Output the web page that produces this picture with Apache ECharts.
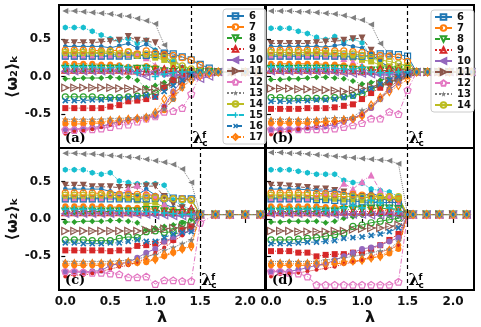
<!DOCTYPE html>
<html><head><meta charset="utf-8">
<script src="https://cdn.jsdelivr.net/npm/echarts@6/dist/echarts.min.js"></script>
<style>html,body{margin:0;padding:0;background:#fff}#c{width:481px;height:327px}</style>
</head><body><div id="c"></div>
<script>
// ---- lambda grids ----
const lamA = [0,0.1,0.2,0.3,0.4,0.5,0.6,0.7,0.8,0.9,1.0,1.1,1.2,1.3,1.4,1.5,1.6,1.7,1.85,2.0,2.15];
const lamB = [0,0.1,0.2,0.3,0.4,0.5,0.6,0.7,0.8,0.9,1.0,1.1,1.2,1.3,1.4,1.5,1.6,1.72,1.84,1.96,2.08,2.2];
const lamC = [0,0.1,0.2,0.3,0.4,0.5,0.6,0.7,0.8,0.9,1.0,1.1,1.2,1.3,1.4,1.5,1.67,1.83,2.0,2.17];
const lamD = [0,0.1,0.2,0.3,0.4,0.5,0.6,0.7,0.8,0.9,1.0,1.1,1.2,1.3,1.4,1.5,1.56,1.71,1.85,2.0,2.15];
const tailA = [0.06,0.06,0.06];
const tailB = [0.06,0.06,0.06,0.06,0.06,0.06];
const tailC = [0.06,0.06,0.06,0.06];
const tailD = [0.06,0.06,0.06,0.06,0.06];
const critA = 1.4, critB = 1.5, critC = 1.5, critD = 1.5;
const xTicks = [0, 0.5, 1.0, 1.5, 2.0];
const yTicks = [-0.5, 0, 0.5];
const legendA = ['6','7','8','9','10','11','12','13','14','15','16','17'];
const legendB = ['6','7','8','9','10','11','12','13','14'];
const panelNames = ['(a)','(b)','(c)','(d)'];

// ---- panel (a) ----
const a_x1 = [0.87,0.87,0.86,0.85,0.84,0.83,0.81,0.80,0.77,0.74,0.70,0.42,0.25,0.12,0.07,0.06,0.06,0.06];
const a_x2 = [0.65,0.65,0.65,0.60,0.55,0.50,0.48,0.50,0.44,0.48,0.35,0.28,0.20,0.12,0.08,0.06,0.06,0.06];
const a_x3 = [0.45,0.45,0.45,0.45,0.46,0.47,0.48,0.53,0.48,0.47,0.45,0.30,0.15,0.10,0.07,0.06,0.06,0.06];
const a_x4 = [0.40,0.40,0.40,0.40,0.40,0.38,0.41,0.44,0.38,0.43,0.35,0.25,0.15,0.10,0.07,0.06,0.06,0.06];
const a_x5 = [0.30,0.30,0.30,0.30,0.31,0.30,0.29,0.28,0.30,0.26,0.25,0.22,0.15,0.10,0.07,0.06,0.06,0.06];
const a_x6 = [0.27,0.27,0.27,0.27,0.27,0.28,0.28,0.30,0.30,0.25,0.15,0.08,0.05,0.05,0.06,0.06,0.06,0.06];
const a_x7 = [0.17,0.17,0.17,0.17,0.16,0.16,0.15,0.13,0.12,0.14,0.12,0.08,0.07,0.06,0.06,0.06,0.06,0.06];
const a_x9 = [0.07,0.07,0.07,0.07,0.07,0.08,0.07,0.07,0.06,0.07,0.05,0.02,0.00,0.03,0.05,0.06,0.06,0.06];
const a_x11 = [-0.03,-0.03,-0.02,-0.02,-0.02,-0.01,-0.02,-0.01,-0.05,-0.15,-0.12,-0.08,-0.02,0.03,0.06,0.06,0.06,0.06];
const a_x12 = [-0.27,-0.27,-0.27,-0.27,-0.28,-0.28,-0.28,-0.27,-0.26,-0.25,-0.22,-0.15,-0.05,0.02,0.05,0.06,0.06,0.06];
const a_x13 = [-0.42,-0.42,-0.42,-0.42,-0.42,-0.40,-0.38,-0.33,-0.32,-0.30,-0.27,-0.15,-0.05,0.02,0.06,0.06,0.06,0.06];
const a_x17 = [-0.63,-0.63,-0.63,-0.62,-0.62,-0.61,-0.60,-0.58,-0.56,-0.55,-0.52,-0.45,-0.30,-0.10,0.03,0.06,0.06,0.06];
const a_x15 = [-0.70,-0.70,-0.69,-0.68,-0.66,-0.63,-0.60,-0.58,-0.56,-0.55,-0.52,-0.40,-0.20,-0.05,0.05,0.06,0.06,0.06];
const a_x16 = [-0.76,-0.73,-0.72,-0.70,-0.67,-0.64,-0.62,-0.60,-0.55,-0.53,-0.50,-0.40,-0.25,-0.10,0.04,0.06,0.06,0.06];
const a_k6 = [0.27,0.27,0.27,0.27,0.27,0.27,0.27,0.27,0.28,0.28,0.29,0.31,0.30,0.26,0.22,0.16,0.11,0.06];
const a_k7 = [0.35,0.35,0.35,0.35,0.34,0.34,0.35,0.33,0.30,0.34,0.31,0.29,0.28,0.25,0.22,0.15,0.09,0.06];
const a_k8 = [0.10,0.10,0.10,0.10,0.10,0.10,0.10,0.09,0.10,0.10,0.09,0.07,0.06,0.08,0.06,0.06,0.06,0.06];
const a_k9 = [0.09,0.09,0.09,0.09,0.09,0.09,0.09,0.08,0.08,0.07,0.08,0.10,0.11,0.10,0.08,0.06,0.06,0.06];
const a_k10 = [0.07,0.07,0.07,0.07,0.07,0.07,0.07,0.08,0.05,0.00,0.06,0.05,0.03,0.02,0.00,-0.03,0.00,0.06];
const a_k11 = [-0.15,-0.15,-0.15,-0.15,-0.15,-0.15,-0.16,-0.16,-0.17,-0.18,-0.17,-0.12,-0.08,-0.06,0.00,0.04,0.06,0.06];
const a_k12 = [-0.71,-0.71,-0.70,-0.70,-0.69,-0.67,-0.65,-0.64,-0.60,-0.56,-0.53,-0.47,-0.46,-0.42,-0.23,0.02,0.05,0.06];
const a_k13 = [-0.57,-0.57,-0.57,-0.57,-0.57,-0.56,-0.56,-0.55,-0.55,-0.52,-0.48,-0.43,-0.30,-0.15,-0.02,0.05,0.06,0.06];
const a_k14 = [0.32,0.32,0.32,0.32,0.32,0.33,0.30,0.32,0.28,0.30,0.27,0.25,0.20,0.14,0.10,0.07,0.06,0.06];
const a_k15 = [0.13,0.13,0.13,0.13,0.12,0.12,0.13,0.12,0.05,0.12,0.00,0.03,0.05,0.06,0.06,0.06,0.06,0.06];
const a_k16 = [-0.32,-0.32,-0.32,-0.31,-0.31,-0.30,-0.30,-0.28,-0.27,-0.25,-0.27,-0.20,-0.12,-0.05,0.03,0.06,0.06,0.06];
const a_k17 = [-0.60,-0.60,-0.60,-0.60,-0.60,-0.59,-0.58,-0.57,-0.56,-0.55,-0.48,-0.30,-0.22,-0.14,-0.05,0.01,0.04,0.06];

// ---- panel (b) ----
const b_x1 = [0.87,0.87,0.87,0.86,0.86,0.85,0.84,0.83,0.81,0.78,0.75,0.69,0.44,0.30,0.15,0.06];
const b_x2 = [0.64,0.64,0.64,0.60,0.57,0.52,0.49,0.53,0.46,0.50,0.45,0.26,0.18,0.12,0.08,0.06];
const b_x3 = [0.44,0.44,0.44,0.44,0.44,0.45,0.46,0.47,0.48,0.50,0.51,0.35,0.20,0.12,0.08,0.06];
const b_x4 = [0.40,0.40,0.40,0.40,0.40,0.40,0.39,0.41,0.43,0.40,0.38,0.30,0.20,0.12,0.08,0.06];
const b_x5 = [0.29,0.29,0.29,0.29,0.30,0.30,0.30,0.29,0.27,0.25,0.22,0.20,0.15,0.13,0.12,0.10];
const b_x6 = [0.27,0.27,0.27,0.27,0.28,0.28,0.28,0.27,0.24,0.20,0.15,0.10,0.08,0.07,0.06,0.06];
const b_x7 = [0.17,0.17,0.17,0.17,0.17,0.17,0.16,0.16,0.15,0.14,0.12,0.10,0.08,0.07,0.06,0.06];
const b_x9 = [0.07,0.07,0.07,0.07,0.07,0.07,0.07,0.07,0.08,0.07,0.06,0.04,0.03,0.04,0.05,0.06];
const b_x11 = [-0.04,-0.04,-0.03,-0.03,-0.02,-0.01,-0.01,-0.02,-0.03,-0.06,-0.10,-0.08,-0.05,-0.02,0.02,0.05];
const b_x12 = [-0.28,-0.28,-0.29,-0.29,-0.29,-0.29,-0.29,-0.28,-0.27,-0.25,-0.23,-0.17,-0.12,-0.08,-0.03,0.02];
const b_x13 = [-0.43,-0.43,-0.43,-0.43,-0.42,-0.42,-0.42,-0.41,-0.39,-0.37,-0.30,-0.22,-0.15,-0.08,-0.02,0.03];
const b_x17 = [-0.62,-0.62,-0.62,-0.62,-0.62,-0.61,-0.60,-0.60,-0.59,-0.56,-0.52,-0.42,-0.30,-0.18,-0.08,0.00];
const b_x15 = [-0.71,-0.71,-0.70,-0.70,-0.68,-0.67,-0.66,-0.64,-0.60,-0.56,-0.50,-0.42,-0.30,-0.18,-0.08,0.02];
const b_x16 = [-0.77,-0.74,-0.73,-0.70,-0.68,-0.66,-0.64,-0.62,-0.57,-0.55,-0.50,-0.40,-0.28,-0.15,-0.05,0.02];
const b_k6 = [0.27,0.27,0.27,0.27,0.27,0.27,0.27,0.27,0.27,0.27,0.27,0.28,0.30,0.30,0.29,0.27];
const b_k7 = [0.35,0.35,0.35,0.35,0.35,0.35,0.35,0.34,0.34,0.33,0.32,0.30,0.28,0.27,0.26,0.20];
const b_k8 = [0.10,0.10,0.10,0.10,0.10,0.10,0.10,0.10,0.10,0.09,0.08,0.08,0.08,0.08,0.09,0.10];
const b_k9 = [0.09,0.09,0.09,0.09,0.09,0.09,0.09,0.09,0.08,0.08,0.07,0.08,0.10,0.11,0.10,0.08];
const b_k10 = [0.07,0.07,0.07,0.07,0.07,0.07,0.07,0.06,0.05,0.04,0.04,0.03,0.02,0.02,0.03,0.04];
const b_k11 = [-0.16,-0.16,-0.16,-0.17,-0.17,-0.18,-0.18,-0.19,-0.20,-0.18,-0.16,-0.14,-0.10,-0.06,-0.02,0.02];
const b_k12 = [-0.70,-0.70,-0.70,-0.70,-0.70,-0.70,-0.70,-0.69,-0.67,-0.65,-0.62,-0.56,-0.56,-0.47,-0.50,-0.18];
const b_k13 = [-0.57,-0.57,-0.57,-0.57,-0.57,-0.57,-0.56,-0.55,-0.55,-0.54,-0.45,-0.40,-0.30,-0.15,-0.05,0.02];
const b_k14 = [0.32,0.32,0.32,0.32,0.32,0.32,0.31,0.31,0.30,0.30,0.28,0.25,0.22,0.20,0.17,0.14];
const b_k15 = [0.13,0.13,0.13,0.12,0.12,0.12,0.12,0.11,0.10,0.10,0.12,0.06,0.05,0.05,0.06,0.06];
const b_k16 = [-0.33,-0.33,-0.33,-0.32,-0.32,-0.31,-0.31,-0.30,-0.28,-0.26,-0.20,-0.16,-0.10,-0.05,0.00,0.03];
const b_k17 = [-0.60,-0.60,-0.60,-0.60,-0.60,-0.60,-0.60,-0.59,-0.58,-0.56,-0.52,-0.38,-0.28,-0.20,-0.12,-0.04];

// ---- panel (c) ----
const c_x1 = [0.88,0.88,0.87,0.87,0.86,0.85,0.84,0.83,0.82,0.80,0.78,0.76,0.73,0.67,0.49,0.06];
const c_x2 = [0.66,0.66,0.66,0.62,0.60,0.62,0.51,0.49,0.47,0.47,0.47,0.45,0.25,0.18,0.12,0.06];
const c_x3 = [0.45,0.45,0.45,0.43,0.43,0.43,0.42,0.42,0.43,0.44,0.44,0.30,0.20,0.15,0.10,0.06];
const c_x4 = [0.40,0.40,0.40,0.40,0.40,0.37,0.34,0.36,0.32,0.40,0.32,0.20,0.15,0.10,0.08,0.06];
const c_x5 = [0.29,0.29,0.29,0.29,0.29,0.29,0.28,0.28,0.25,0.20,0.22,0.15,0.12,0.10,0.08,0.06];
const c_x6 = [0.27,0.27,0.27,0.27,0.28,0.30,0.35,0.40,0.45,0.35,0.30,0.20,0.10,0.10,0.08,0.06];
const c_x7 = [0.17,0.17,0.17,0.17,0.17,0.16,0.16,0.15,0.15,0.14,0.13,0.10,0.08,0.07,0.06,0.06];
const c_x9 = [0.08,0.08,0.08,0.08,0.08,0.08,0.08,0.08,0.08,0.07,0.06,0.06,0.05,0.05,0.05,0.06];
const c_x11 = [-0.04,-0.04,-0.03,-0.03,-0.03,-0.02,-0.02,-0.03,-0.05,-0.15,-0.12,-0.10,-0.08,-0.05,0.00,0.06];
const c_x12 = [-0.28,-0.28,-0.28,-0.29,-0.29,-0.29,-0.26,-0.24,-0.25,-0.17,-0.16,-0.18,-0.17,-0.06,-0.04,0.06];
const c_x13 = [-0.42,-0.42,-0.42,-0.42,-0.42,-0.43,-0.42,-0.42,-0.36,-0.35,-0.33,-0.30,-0.28,-0.15,-0.10,0.06];
const c_x17 = [-0.62,-0.62,-0.62,-0.62,-0.62,-0.61,-0.61,-0.60,-0.59,-0.58,-0.54,-0.50,-0.45,-0.40,-0.35,0.06];
const c_x15 = [-0.71,-0.71,-0.71,-0.70,-0.69,-0.62,-0.60,-0.58,-0.52,-0.45,-0.40,-0.30,-0.25,-0.20,-0.15,0.06];
const c_x16 = [-0.77,-0.75,-0.75,-0.73,-0.70,-0.67,-0.64,-0.62,-0.58,-0.52,-0.45,-0.38,-0.30,-0.22,-0.12,0.06];
const c_k6 = [0.27,0.27,0.27,0.27,0.27,0.27,0.27,0.27,0.27,0.27,0.28,0.28,0.28,0.27,0.27,0.06];
const c_k7 = [0.35,0.35,0.35,0.35,0.34,0.34,0.33,0.33,0.33,0.32,0.30,0.28,0.27,0.27,0.26,0.06];
const c_k8 = [0.10,0.10,0.10,0.10,0.10,0.10,0.10,0.10,0.10,0.12,0.12,0.10,0.08,0.08,0.07,0.06];
const c_k9 = [0.09,0.09,0.09,0.09,0.09,0.09,0.09,0.09,0.09,0.09,0.10,0.10,0.10,0.12,0.14,0.06];
const c_k10 = [0.07,0.07,0.07,0.07,0.07,0.07,0.07,0.07,0.06,0.06,0.05,0.05,0.04,0.04,0.04,0.06];
const c_k11 = [-0.16,-0.16,-0.16,-0.16,-0.16,-0.16,-0.16,-0.16,-0.16,-0.15,-0.14,-0.13,-0.12,-0.12,-0.10,0.06];
const c_k12 = [-0.70,-0.70,-0.71,-0.72,-0.72,-0.73,-0.74,-0.78,-0.78,-0.77,-0.87,-0.82,-0.82,-0.83,-0.83,-0.05];
const c_k13 = [-0.57,-0.57,-0.57,-0.57,-0.57,-0.57,-0.56,-0.55,-0.54,-0.50,-0.48,-0.42,-0.38,-0.33,-0.28,0.06];
const c_k14 = [0.32,0.32,0.32,0.32,0.32,0.32,0.31,0.30,0.30,0.29,0.28,0.27,0.27,0.26,0.25,0.06];
const c_k15 = [0.13,0.13,0.13,0.13,0.12,0.12,0.11,0.11,0.10,0.10,0.09,0.08,0.07,0.06,0.06,0.06];
const c_k16 = [-0.32,-0.32,-0.33,-0.33,-0.33,-0.32,-0.32,-0.30,-0.28,-0.30,-0.30,-0.25,-0.20,-0.18,-0.17,0.06];
const c_k17 = [-0.60,-0.60,-0.60,-0.60,-0.60,-0.60,-0.59,-0.58,-0.57,-0.55,-0.54,-0.48,-0.44,-0.40,-0.37,0.06];

// ---- panel (d) ----
const d_x1 = [0.89,0.89,0.88,0.88,0.87,0.86,0.85,0.84,0.83,0.82,0.81,0.80,0.79,0.78,0.74,0.06];
const d_x2 = [0.66,0.66,0.66,0.64,0.62,0.60,0.60,0.60,0.52,0.49,0.48,0.40,0.38,0.36,0.30,0.06];
const d_x3 = [0.45,0.45,0.44,0.43,0.42,0.40,0.40,0.38,0.36,0.33,0.30,0.28,0.27,0.25,0.22,0.06];
const d_x4 = [0.40,0.40,0.40,0.40,0.39,0.38,0.37,0.37,0.35,0.32,0.30,0.35,0.30,0.27,0.25,0.06];
const d_x5 = [0.29,0.29,0.29,0.29,0.28,0.27,0.27,0.27,0.26,0.26,0.25,0.25,0.27,0.28,0.27,0.06];
const d_x6 = [0.27,0.27,0.27,0.27,0.28,0.30,0.35,0.33,0.48,0.40,0.50,0.59,0.38,0.30,0.20,0.06];
const d_x7 = [0.17,0.17,0.17,0.17,0.17,0.17,0.16,0.16,0.16,0.16,0.16,0.15,0.14,0.13,0.12,0.06];
const d_x9 = [0.08,0.08,0.08,0.08,0.08,0.08,0.08,0.08,0.08,0.07,0.07,0.07,0.08,0.08,0.08,0.06];
const d_x11 = [-0.04,-0.04,-0.03,-0.03,-0.03,-0.03,-0.05,-0.03,0.01,0.03,0.05,0.07,0.05,0.04,0.04,0.06];
const d_x12 = [-0.28,-0.28,-0.28,-0.27,-0.26,-0.25,-0.23,-0.21,-0.19,-0.10,-0.08,-0.05,-0.03,-0.01,0.01,0.06];
const d_x13 = [-0.43,-0.43,-0.43,-0.45,-0.45,-0.50,-0.48,-0.47,-0.47,-0.45,-0.45,-0.40,-0.35,-0.28,-0.20,0.06];
const d_x17 = [-0.62,-0.62,-0.62,-0.62,-0.62,-0.62,-0.61,-0.60,-0.59,-0.57,-0.55,-0.52,-0.50,-0.46,-0.40,0.06];
const d_x15 = [-0.71,-0.70,-0.70,-0.68,-0.65,-0.62,-0.60,-0.55,-0.50,-0.45,-0.40,-0.38,-0.35,-0.30,-0.25,0.06];
const d_x16 = [-0.77,-0.74,-0.73,-0.72,-0.70,-0.68,-0.66,-0.64,-0.60,-0.58,-0.55,-0.50,-0.45,-0.40,-0.35,0.06];
const d_k6 = [0.27,0.27,0.27,0.27,0.27,0.26,0.26,0.25,0.24,0.24,0.23,0.22,0.22,0.22,0.22,0.06];
const d_k7 = [0.35,0.35,0.35,0.35,0.35,0.34,0.34,0.33,0.33,0.33,0.32,0.31,0.30,0.30,0.27,0.06];
const d_k8 = [0.10,0.10,0.10,0.10,0.10,0.10,0.10,0.10,0.12,0.13,0.13,0.14,0.14,0.14,0.13,0.06];
const d_k9 = [0.09,0.09,0.09,0.09,0.09,0.09,0.09,0.09,0.10,0.10,0.10,0.10,0.11,0.11,0.10,0.06];
const d_k10 = [0.07,0.07,0.07,0.07,0.07,0.07,0.07,0.06,0.06,0.06,0.06,0.05,0.05,0.05,0.05,0.06];
const d_k11 = [-0.16,-0.16,-0.16,-0.17,-0.17,-0.17,-0.17,-0.16,-0.16,-0.14,-0.13,-0.12,-0.12,-0.10,-0.08,0.06];
const d_k12 = [-0.70,-0.70,-0.72,-0.73,-0.77,-0.88,-0.88,-0.88,-0.88,-0.88,-0.88,-0.88,-0.88,-0.88,-0.84,0.06];
const d_k13 = [-0.57,-0.57,-0.57,-0.57,-0.57,-0.57,-0.55,-0.54,-0.52,-0.50,-0.48,-0.45,-0.43,-0.40,-0.30,0.06];
const d_k14 = [0.32,0.32,0.32,0.32,0.32,0.31,0.31,0.30,0.30,0.30,0.29,0.29,0.30,0.29,0.30,0.06];
const d_k15 = [0.13,0.13,0.13,0.13,0.13,0.13,0.12,0.12,0.15,0.18,0.15,0.25,0.22,0.15,0.10,0.06];
const d_k16 = [-0.33,-0.33,-0.33,-0.32,-0.31,-0.31,-0.30,-0.29,-0.26,-0.25,-0.24,-0.22,-0.20,-0.17,-0.12,0.06];
const d_k17 = [-0.60,-0.60,-0.60,-0.60,-0.60,-0.59,-0.59,-0.58,-0.57,-0.56,-0.55,-0.52,-0.50,-0.42,-0.35,0.06];

// order of drawing: extras first, then legend series
const KEYS = ['x1','x2','x3','x4','x5','x6','x7','x9','x11','x12','x13','x17','x15','x16',
              'k6','k7','k8','k9','k10','k11','k12','k13','k14','k15','k16','k17'];
const setA = [a_x1,a_x2,a_x3,a_x4,a_x5,a_x6,a_x7,a_x9,a_x11,a_x12,a_x13,a_x17,a_x15,a_x16,
              a_k6,a_k7,a_k8,a_k9,a_k10,a_k11,a_k12,a_k13,a_k14,a_k15,a_k16,a_k17];
const setB = [b_x1,b_x2,b_x3,b_x4,b_x5,b_x6,b_x7,b_x9,b_x11,b_x12,b_x13,b_x17,b_x15,b_x16,
              b_k6,b_k7,b_k8,b_k9,b_k10,b_k11,b_k12,b_k13,b_k14,b_k15,b_k16,b_k17];
const setC = [c_x1,c_x2,c_x3,c_x4,c_x5,c_x6,c_x7,c_x9,c_x11,c_x12,c_x13,c_x17,c_x15,c_x16,
              c_k6,c_k7,c_k8,c_k9,c_k10,c_k11,c_k12,c_k13,c_k14,c_k15,c_k16,c_k17];
const setD = [d_x1,d_x2,d_x3,d_x4,d_x5,d_x6,d_x7,d_x9,d_x11,d_x12,d_x13,d_x17,d_x15,d_x16,
              d_k6,d_k7,d_k8,d_k9,d_k10,d_k11,d_k12,d_k13,d_k14,d_k15,d_k16,d_k17];

// ---- styles ----
const PATH = {
  pent: 'path://M50,2 L97,36 L79,92 L21,92 L3,36 Z',
  hex: 'path://M50,0 L93,25 L93,75 L50,100 L7,75 L7,25 Z',
  star: 'path://M50,0 L61,35 L98,35 L68,57 L79,92 L50,71 L21,92 L32,57 L2,35 L39,35 Z',
  plus: 'path://M38,0 H62 V38 H100 V62 H62 V100 H38 V62 H0 V38 H38 Z'
};
const DD = [5, 2, 1, 2];
const STY = {
  k6:  {n:'6',  c:'#1f77b4', s:'rect', h:true, d:'solid', sz:6},
  k7:  {n:'7',  c:'#ff7f0e', s:'circle', h:true, d:'dashed', sz:6},
  k8:  {n:'8',  c:'#2ca02c', s:'triangle', r:180, h:true, d:DD, sz:7},
  k9:  {n:'9',  c:'#d62728', s:'triangle', h:true, d:'dotted', sz:7},
  k10: {n:'10', c:'#9467bd', s:'triangle', r:90, h:true, d:'solid', sz:7},
  k11: {n:'11', c:'#8c564b', s:'triangle', r:-90, h:true, d:'dashed', sz:7},
  k12: {n:'12', c:'#e377c2', s:PATH.pent, h:true, d:DD, sz:7},
  k13: {n:'13', c:'#7f7f7f', s:PATH.star, h:false, d:'dotted', sz:7},
  k14: {n:'14', c:'#bcbd22', s:'circle', h:true, d:'solid', sz:6},
  k15: {n:'15', c:'#17becf', s:PATH.plus, h:false, d:'dashed', sz:7},
  k16: {n:'16', c:'#1f77b4', s:PATH.plus, r:45, h:false, d:DD, sz:7},
  k17: {n:'17', c:'#ff7f0e', s:'diamond', h:true, d:'dotted', sz:[5,8]},
  x1:  {c:'#7f7f7f', s:'triangle', r:90, d:'dotted', sz:6},
  x2:  {c:'#17becf', s:PATH.hex, d:'dotted', sz:6},
  x3:  {c:'#8c564b', s:'triangle', r:180, d:'dashed', sz:7},
  x4:  {c:'#1f77b4', s:PATH.hex, d:'solid', sz:5},
  x5:  {c:'#bcbd22', s:'rect', d:'solid', sz:6},
  x6:  {c:'#e377c2', s:'triangle', d:DD, sz:7},
  x7:  {c:'#ff7f0e', s:'circle', d:'dashed', sz:6},
  x9:  {c:'#9467bd', s:'circle', d:'solid', sz:5},
  x11: {c:'#2ca02c', s:'diamond', d:DD, sz:6},
  x12: {c:'#2ca02c', s:'circle', h:true, d:'solid', sz:6},
  x13: {c:'#d62728', s:'rect', d:'dotted', sz:6},
  x17: {c:'#ff7f0e', s:'circle', d:'dashed', sz:6},
  x15: {c:'#9467bd', s:'circle', d:'solid', sz:6},
  x16: {c:'#d62728', s:'circle', d:'dotted', sz:4}
};

function mkSeries(key, vals, lam, tail, gi) {
  const s = STY[key];
  const all = vals.concat(tail);
  const data = all.map((v, i) => [lam[i], v]);
  return {
    type: 'line', name: s.n || key, xAxisIndex: gi, yAxisIndex: gi, data: data,
    symbol: s.s, symbolSize: s.sz, symbolRotate: s.r || 0, symbolKeepAspect: true,
    showSymbol: true, clip: true, silent: true, animation: false,
    lineStyle: {color: s.c, width: 1, type: s.d},
    itemStyle: s.h ? {color: 'rgba(255,255,255,0)', borderColor: s.c, borderWidth: 1.2}
                   : {color: s.c, borderColor: s.c, borderWidth: 0},
    emphasis: {disabled: true}, z: 2
  };
}

const panels = [
  {set: setA, lam: lamA, tail: tailA, crit: critA},
  {set: setB, lam: lamB, tail: tailB, crit: critB},
  {set: setC, lam: lamC, tail: tailC, crit: critC},
  {set: setD, lam: lamD, tail: tailD, crit: critD}
];

const FONT = 'DejaVu Sans';
const grids = [
  {left: 59, top: 5, width: 206, height: 143},
  {left: 266, top: 5, width: 208, height: 143},
  {left: 59, top: 148, width: 206, height: 142},
  {left: 266, top: 148, width: 208, height: 142}
].map(g => Object.assign(g, {show: true, borderColor: '#000', borderWidth: 2, backgroundColor: 'rgba(0,0,0,0)'}));

const xAxes = [0,1,2,3].map(i => ({
  type: 'value', gridIndex: i,
  min: (i % 2) ? -0.055 : -0.07, max: (i % 2) ? 2.23 : 2.22,
  axisLine: {show: false}, splitLine: {show: false},
  axisTick: {show: i >= 2, customValues: xTicks, length: 4, lineStyle: {color: '#000', width: 1.2}},
  axisLabel: {show: i >= 2, customValues: xTicks, formatter: v => v.toFixed(1), fontSize: 12,
              fontWeight: 'bold', color: '#111', fontFamily: FONT, margin: 6},
  name: i >= 2 ? 'λ' : '', nameLocation: 'middle', nameGap: 20,
  nameTextStyle: {fontSize: 16, fontWeight: 'bold', color: '#111', fontFamily: FONT}
}));
const yAxes = [0,1,2,3].map(i => ({
  type: 'value', gridIndex: i, min: -0.95, max: 0.95,
  axisLine: {show: false}, splitLine: {show: false},
  axisTick: {show: true, customValues: yTicks, length: 4, lineStyle: {color: '#000', width: 1.2}},
  axisLabel: {show: i % 2 === 0, customValues: yTicks, formatter: v => v.toFixed(1), fontSize: 12,
              fontWeight: 'bold', color: '#111', fontFamily: FONT, margin: 8},
  name: i % 2 === 0 ? '⟨ω₂⟩ₖ' : '', nameLocation: 'middle', nameGap: 34, nameRotate: 90,
  nameTextStyle: {fontSize: 16, fontWeight: 'bold', color: '#111', fontFamily: FONT}
}));

const series = [];
panels.forEach((p, gi) => {
  KEYS.forEach((k, j) => series.push(mkSeries(k, p.set[j], p.lam, p.tail, gi)));
  series.push({
    type: 'line', name: 'crit' + gi, xAxisIndex: gi, yAxisIndex: gi, data: [[p.crit, 0]],
    symbol: 'none', lineStyle: {opacity: 0}, silent: true, animation: false, z: 3,
    markLine: {silent: true, symbol: ['none', 'none'], animation: false, label: {show: false},
               lineStyle: {color: '#000', type: [4, 3], width: 1.2}, data: [{xAxis: p.crit}]}
  });
});

const legendBase = {
  orient: 'vertical', itemWidth: 17, itemHeight: 7, itemGap: 1, selectedMode: false,
  backgroundColor: 'rgba(255,255,255,0.82)', borderColor: '#ccc', borderWidth: 1, borderRadius: 3,
  padding: [2, 3, 2, 3], textStyle: {fontSize: 10, fontWeight: 'bold', color: '#111', fontFamily: FONT, lineHeight: 8},
  itemStyle: {}, z: 10
};

const option = {
  animation: false,
  backgroundColor: '#fff',
  grid: grids, xAxis: xAxes, yAxis: yAxes, series: series,
  legend: [
    Object.assign({}, legendBase, {data: legendA, left: 223, top: 9}),
    Object.assign({}, legendBase, {data: legendB, left: 431, top: 10})
  ]
};

const chart = echarts.init(document.getElementById('c'), null, {renderer: 'canvas'});
chart.setOption(option);

const gfx = [];
panels.forEach((p, i) => {
  const base = chart.convertToPixel({gridIndex: i}, [p.crit, -0.95]);
  gfx.push({type: 'text', x: base[0] + 1, y: base[1] - 17, z: 100,
            style: {text: 'λ', font: 'bold 16px DejaVu Serif', fill: '#000', textVerticalAlign: 'top'}});
  gfx.push({type: 'text', x: base[0] + 11, y: base[1] - 17, z: 100,
            style: {text: 'f', font: 'bold 9px DejaVu Sans', fill: '#000', textVerticalAlign: 'top'}});
  gfx.push({type: 'text', x: base[0] + 11, y: base[1] - 9, z: 100,
            style: {text: 'c', font: 'bold 9px DejaVu Sans', fill: '#000', textVerticalAlign: 'top'}});
  const g = grids[i];
  gfx.push({type: 'text', x: g.left + 6, y: g.top + g.height - 16, z: 100,
            style: {text: panelNames[i], font: 'bold 13px DejaVu Serif', fill: '#000', textVerticalAlign: 'top'}});
});
chart.setOption({graphic: gfx});
</script>
</body></html>
